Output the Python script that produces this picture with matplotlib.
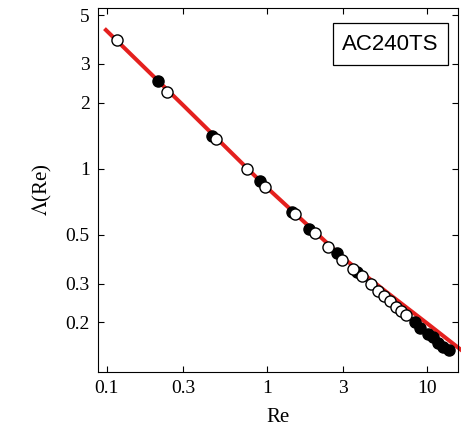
import matplotlib
matplotlib.use('Agg')
import matplotlib.pyplot as plt
from matplotlib.patches import Rectangle

plt.rcParams['font.family'] = ['Liberation Serif', 'DejaVu Serif']
plt.rcParams['mathtext.fontset'] = 'stix'

# data (log-log)
re_filled = [0.208, 0.453, 0.904, 1.43, 1.83, 2.74, 3.65,
             8.41, 9.04, 10.1, 10.9, 11.7, 12.6, 13.7]
lam_filled = [2.51, 1.41, 0.882, 0.638, 0.534, 0.415, 0.340,
              0.202, 0.189, 0.178, 0.171, 0.162, 0.155, 0.150]

re_open = [0.115, 0.237, 0.480, 0.750, 0.971, 1.50, 2.0, 2.40, 2.94,
           3.45, 3.92, 4.47, 4.94, 5.38, 5.87, 6.40, 6.88, 7.39]
lam_open = [3.86, 2.24, 1.37, 1.0, 0.828, 0.624, 0.512, 0.442, 0.386,
            0.351, 0.327, 0.300, 0.279, 0.265, 0.251, 0.236, 0.226, 0.217]

# fitted curve (red)
re_fit = [0.0986, 0.303, 0.971, 3.03, 5.54, 10.1, 16.3]
lam_fit = [4.28, 1.93, 0.837, 0.390, 0.276, 0.197, 0.150]

xticks = [0.1, 0.3, 1, 3, 10]
xtick_labels = ['0.1', '0.3', '1', '3', '10']
yticks = [0.2, 0.3, 0.5, 1, 2, 3, 5]
ytick_labels = ['0.2', '0.3', '0.5', '1', '2', '3', '5']

fig = plt.figure(figsize=(4.61, 4.45), dpi=100)
ax = fig.add_axes([0.2126, 0.164, 0.781, 0.818])

ax.plot(re_fit, lam_fit, color='#e4201e', lw=2.9, zorder=2, clip_on=False)
ax.plot(re_filled, lam_filled, 'o', ms=8.0, mfc='black', mec='black',
        mew=1.0, zorder=3)
ax.plot(re_open, lam_open, 'o', ms=8.0, mfc='white', mec='black',
        mew=1.0, zorder=4)

ax.set_xscale('log')
ax.set_yscale('log')
ax.set_xlim(0.088, 15.6)
ax.set_ylim(0.119, 5.39)

ax.set_xticks(xticks)
ax.set_xticklabels(xtick_labels)
ax.set_yticks(yticks)
ax.set_yticklabels(ytick_labels)
ax.minorticks_off()
ax.tick_params(which='major', direction='in', length=4, width=0.8,
               top=True, right=True, labelsize=14, pad=6)
for s in ax.spines.values():
    s.set_linewidth(0.8)

ax.set_xlabel('Re', fontsize=15, labelpad=8)
ax.set_ylabel(r'$\mathit{\Lambda}$(Re)', fontsize=15, labelpad=8)

ax.add_patch(Rectangle((0.653, 0.843), 0.319, 0.115, transform=ax.transAxes,
                       fill=False, ec='black', lw=0.9, zorder=5))
ax.text(0.8125, 0.901, 'AC240TS', transform=ax.transAxes, ha='center',
        va='center', fontsize=16, family='Liberation Sans', zorder=6)

fig.savefig('out.png', dpi=100)
